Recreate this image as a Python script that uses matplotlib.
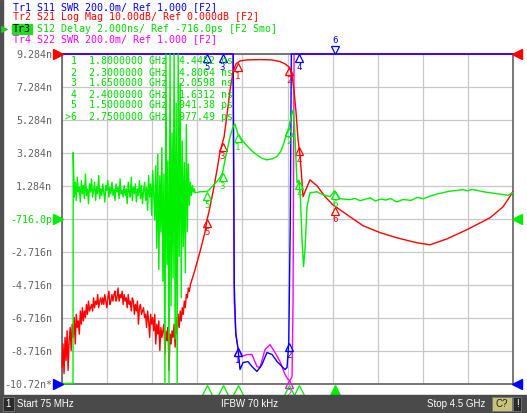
import numpy as np
import matplotlib.pyplot as plt
from matplotlib import transforms
from matplotlib.patches import Rectangle

W, H = 527, 413

# sweep (GHz)
F_START, F_STOP = 0.075, 4.5

# Tr3 S12 delay scale, ns  (ref -716.0 ps, 2 ns/div)
DLY_BOT, DLY_TOP = -10.716, 9.284
# Tr2 S21 log mag, dB  (ref 0 dB at top, 10 dB/div)
DB_BOT, DB_TOP = -100.0, 0.0
# Tr1/Tr4 SWR  (ref 1.000 at bottom, 200m/div)
SWR_BOT, SWR_TOP = 1.0, 3.0

ytick_labels = ['-10.72n*', '-8.716n', '-6.716n', '-4.716n', '-2.716n', '-716.0p',
                '1.284n', '3.284n', '5.284n', '7.284n', '9.284n']

# ---- Tr3 S12 delay (ns)
grn_low_f = [0.075, 0.183]
grn_low_v = [-10.716, -10.716]
grn_noise_f = np.linspace(0.185, 1.375, 120)
grn_noise_v = [3.3, 0.6, 1.5, 0.4, 1.8, 0.9, 1.2, 0.3, 1.6, 0.8,
               1.3, 0.5, 2.0, 0.7, 1.1, 0.2, 1.4, 0.9, 1.7, 0.6,
               1.0, 1.5, 0.4, 1.2, 0.8, 1.9, 0.5, 1.1, 0.7, 1.4,
               0.9, 0.3, 1.3, 1.0, 1.6, 0.6, 1.2, 0.8, 1.5, 0.7,
               1.1, 0.4, 1.4, 0.9, 1.2, 0.5, 1.7, 0.8, 1.0, 0.6,
               1.3, 0.7, 1.1, 0.2, 1.5, 0.9, 0.6, 1.8, 0.4, 1.2,
               0.8, 1.4, 0.3, 1.1, 0.7, 1.6, 0.5, 1.3, 0.2, 1.0,
               1.5, 0.4, 1.2, -0.2, 1.9, 0.6, 1.4, -0.5, 2.2, 0.8,
               -0.8, 2.5, -2.5, 3.2, -3.8, 1.9, -1.5, 3.6, -4.5, 2.0,
               -11, 10, -3.5, 2.8, -11, 10, -6, 4.5, -4.3, 10,
               -8, 6.3, -11, 10, -3, 7.5, -5.5, 4.0, -2.4, 2.7,
               -4.0, 5.0, -1.5, 2.6, 0.1, 1.5, 0.7, 1.3, 0.9, 1.1]
grn_f = [1.380, 1.429, 1.5, 1.557, 1.625, 1.65, 1.684, 1.724, 1.753, 1.772, 1.8,
         1.841, 1.890, 1.939, 1.988, 2.037, 2.086, 2.136, 2.185, 2.224, 2.253,
         2.273, 2.3, 2.322, 2.342, 2.356, 2.371, 2.381, 2.4, 2.415, 2.430,
         2.445, 2.459, 2.479, 2.508, 2.577, 2.636, 2.704, 2.75, 2.803, 2.901,
         2.95, 3.0, 3.05, 3.1, 3.15, 3.2, 3.25, 3.3, 3.36, 3.42, 3.5, 3.56,
         3.62, 3.69, 3.75, 3.81, 3.87, 3.95, 4.01, 4.05, 4.10, 4.15, 4.21,
         4.28, 4.34, 4.40, 4.45, 4.5]
grn_v = [0.86, 0.92, 0.94, 1.28, 1.77, 2.06, 3.16, 4.25, 4.86, 5.04, 4.445,
         4.07, 3.71, 3.40, 3.16, 2.95, 2.86, 2.92, 3.06, 3.40, 3.89,
         4.37, 4.81, 5.47, 5.89, 4.98, 2.86, 1.47, 1.63, 0.44, -1.99,
         -3.62, -2.59, 0.01, 0.86, 0.92, 0.74, 0.62, 0.977, 0.50, 0.44,
         0.52, 0.38, 0.47, 0.55, 0.36, 0.48, 0.42, 0.51, 0.30, 0.45, 0.40, 0.58,
         0.50, 0.66, 0.78, 0.86, 0.95, 1.00, 1.05, 0.98, 1.06, 1.00, 0.92,
         0.86, 0.80, 0.76, 0.70, 0.88]

# ---- Tr2 S21 log mag (dB)
red_noise_f = np.linspace(0.075, 1.375, 131)
red_noise_v = [-95, -88, -97, -86, -93, -84, -96, -87, -83, -90,
               -82, -86, -80, -88, -79, -83, -81, -85, -78, -82,
               -77, -81, -78, -80, -76, -79, -75, -78, -77, -76,
               -78, -74, -77, -75, -76, -73, -77, -75, -74, -76,
               -74, -76, -73, -75, -77, -74, -72, -76, -75, -73,
               -75, -73, -72, -75, -74, -71, -75, -73, -74, -72,
               -76, -73, -75, -74, -77, -73, -76, -75, -78, -74,
               -75, -79, -76, -78, -75, -82, -77, -76, -79, -78,
               -77, -80, -79, -83, -78, -81, -86, -79, -82, -80,
               -84, -79, -88, -82, -85, -81, -90, -83, -86, -84,
               -82, -91, -84, -87, -83, -96, -85, -88, -84, -86,
               -82, -89, -80, -85, -79, -83, -78, -81, -77, -79,
               -75, -77, -73, -74, -71, -72, -70, -69, -68, -67, -66]
red_f = [1.429, 1.478, 1.498, 1.517, 1.557, 1.596, 1.625, 1.665, 1.694, 1.724,
         1.753, 1.782, 1.822, 1.890, 2.018, 2.136, 2.214, 2.263, 2.302, 2.332,
         2.351, 2.371, 2.391, 2.410, 2.425, 2.440, 2.459, 2.508, 2.577, 2.656,
         2.734, 2.803, 2.901, 3.028, 3.195, 3.362, 3.558, 3.686, 3.853, 4.049,
         4.275, 4.402, 4.5]
red_v = [-60.0, -54.0, -50.3, -47.9, -41.8, -35.2, -29.7, -25.2, -18.5, -10.9,
         -5.5, -3.0, -2.1, -1.8, -1.7, -1.8, -2.3, -3.0, -3.9, -6.4,
         -10.9, -17.6, -26.0, -30.6, -36.7, -43.3, -41.8, -38.2, -40.0, -43.3,
         -45.8, -47.3, -49.4, -52.1, -54.2, -55.8, -57.3, -57.9, -56.1, -53.3,
         -49.7, -46.4, -41.8]

# ---- Tr1 S11 SWR (pegged at top outside the passband)
s11_f = [0.075, 1.755, 1.765, 1.78, 1.80, 1.822, 1.851, 1.900, 1.939, 1.988,
         2.037, 2.086, 2.136, 2.185, 2.234, 2.263, 2.283, 2.30, 2.315, 2.325, 4.5]
s11_v = [3.0, 3.0, 1.6, 1.30, 1.22, 1.085, 1.127, 1.133, 1.103, 1.073,
         1.115, 1.188, 1.176, 1.133, 1.103, 1.085, 1.097, 1.25, 2.0, 3.0, 3.0]

# ---- Tr4 S22 SWR
s22_f = [0.075, 1.752, 1.765, 1.78, 1.80, 1.841, 1.890, 1.939, 1.988, 2.018,
         2.067, 2.116, 2.165, 2.214, 2.263, 2.293, 2.312, 2.332, 2.342, 2.352, 4.5]
s22_v = [3.0, 3.0, 1.5, 1.31, 1.22, 1.164, 1.176, 1.176, 1.103, 1.097,
         1.206, 1.236, 1.188, 1.133, 1.055, 1.024, 1.018, 1.042, 1.5, 3.0, 3.0]

# ---- markers
mk_freq = [1.8, 2.3, 1.65, 2.4, 1.5, 2.75]
mk_name = ['1', '2', '3', '4', '5', '>6']
mk_val = ['4.4452', '4.8064', '2.0598', '1.6312', '941.38', '977.49']
mk_unit = ['ns', 'ns', 'ns', 'ns', 'ps', 'ps']

BLUE, RED, GRN, MAG = '#0000ff', '#ff0000', '#00ee00', '#ff00ff'
GRN_TXT = '#00dd00'
MONO = 'DejaVu Sans Mono'
FS = 7.2

fig = plt.figure(figsize=(W / 100, H / 100), dpi=100)
fig.patch.set_facecolor('white')

def fx(px):
    return px / W

def fy(py):
    return 1 - py / H

# frame / status bar
fig.patches.append(Rectangle((0, 0), fx(3), 1, transform=fig.transFigure,
                             color='#505050', zorder=0))
fig.patches.append(Rectangle((0, 0), 1, 18 / H, transform=fig.transFigure,
                             color='#4a4a4a', zorder=0))
fig.patches.append(Rectangle((fx(3), fy(411)), fx(11), 14 / H, transform=fig.transFigure,
                             facecolor='#2a2a2a', edgecolor='#777777', lw=0.6))
fig.patches.append(Rectangle((fx(492), fy(411)), fx(20), 14 / H, transform=fig.transFigure,
                             facecolor='#c8c27a', edgecolor='#777777', lw=0.6))
fig.patches.append(Rectangle((fx(513), fy(411)), fx(8), 14 / H, transform=fig.transFigure,
                             facecolor='#2a2a2a', edgecolor='#777777', lw=0.6))
sb = dict(color='white', fontsize=7, family='Liberation Sans', va='center')
fig.text(fx(8.5), fy(404), '1', ha='center', **sb)
fig.text(fx(17), fy(404), 'Start 75 MHz', ha='left', **sb)
fig.text(fx(250), fy(404), 'IFBW 70 kHz', ha='center', **sb)
fig.text(fx(485), fy(404), 'Stop 4.5 GHz', ha='right', **sb)
fig.text(fx(502), fy(404), 'C?', ha='center', color='#202020', fontsize=7,
         family='Liberation Sans', va='center')
fig.text(fx(517), fy(404), '!', ha='center', **sb)

# header
hdr = [('Tr1 S11 SWR 200.0m/ Ref 1.000 [F2]', BLUE, 7.5),
       ('Tr2 S21 Log Mag 10.00dB/ Ref 0.000dB [F2]', RED, 17.5),
       ('Tr3 S12 Delay 2.000ns/ Ref -716.0ps [F2 Smo]', GRN_TXT, 28.5),
       ('Tr4 S22 SWR 200.0m/ Ref 1.000 [F2]', MAG, 39)]
for txt, c, y in hdr:
    if txt.startswith('Tr3'):
        fig.patches.append(Rectangle((fx(12), fy(34)), fx(19.5), 10 / H,
                                     transform=fig.transFigure, color='#22dd22'))
        fig.text(fx(12.7), fy(y), 'Tr3', color='black', fontsize=FS, family=MONO, va='center')
        fig.text(fx(12.7), fy(y), '    ' + txt[4:], color=c, fontsize=FS, family=MONO, va='center')
        fig.text(fx(1), fy(y), '\u25B6', color='#22cc22', fontsize=7, va='center')
    else:
        fig.text(fx(12.7), fy(y), txt, color=c, fontsize=FS, family=MONO, va='center')

# base axes: grid + labels (delay scale)
ax = fig.add_axes([fx(62), fy(383.5), fx(451), 329.5 / H])
ax.set_xlim(F_START, F_STOP)
ax.set_ylim(DLY_BOT, DLY_TOP)
ax.set_xticks(np.linspace(F_START, F_STOP, 11))
ax.set_xticklabels([])
ax.set_yticks(np.linspace(DLY_BOT, DLY_TOP, 11), ytick_labels)
ax.tick_params(length=0, pad=7.2, labelsize=FS, labelcolor='#606060')
for lab in ax.get_yticklabels():
    lab.set_family(MONO)
    if lab.get_text() == '-716.0p':
        lab.set_color(GRN_TXT)
ax.grid(True, color='#c8c8c8', lw=0.9)
for s in ax.spines.values():
    s.set_color('#606060')
    s.set_linewidth(1.2)


def twin(lo, hi):
    a = ax.twinx()
    a.set_ylim(lo, hi)
    a.set_xlim(F_START, F_STOP)
    a.axis('off')
    return a


ax_swr = twin(SWR_BOT, SWR_TOP)
ax_red = twin(DB_BOT, DB_TOP)
ax_grn = twin(DLY_BOT, DLY_TOP)


def draw_markers(a, f, v, color, idx, lo, hi):
    tri = transforms.offset_copy(a.transData, fig=fig, y=-3.2, units='points')
    num = transforms.offset_copy(a.transData, fig=fig, y=-6.6, units='points')
    for i in idx:
        fm = mk_freq[i]
        vm = float(np.clip(np.interp(fm, f, v), lo, hi))
        a.plot([fm], [vm], marker='^', ms=6.4, mfc='none', mec=color, mew=0.9,
               transform=tri, clip_on=False, zorder=6)
        a.text(fm, vm, str(i + 1), transform=num, ha='center', va='top',
               color=color, fontsize=6.5, family=MONO, zorder=6, clip_on=False)


# SWR traces
ax_swr.plot(s22_f, s22_v, color=MAG, lw=1.0, clip_on=False)
ax_swr.plot(s11_f, s11_v, color=BLUE, lw=1.0, clip_on=False)
draw_markers(ax_swr, s22_f, s22_v, MAG, [0, 1], SWR_BOT, SWR_TOP)
draw_markers(ax_swr, s11_f, s11_v, BLUE, [0, 1, 2, 3, 4], SWR_BOT, SWR_TOP)
up = transforms.offset_copy(ax_swr.transData, fig=fig, y=3.2, units='points')
up2 = transforms.offset_copy(ax_swr.transData, fig=fig, y=6.6, units='points')
ax_swr.plot([mk_freq[5]], [SWR_TOP], marker='v', ms=6.4, mfc='none', mec=BLUE,
            mew=0.9, transform=up, clip_on=False)
ax_swr.text(mk_freq[5], SWR_TOP, '6', transform=up2, ha='center', va='bottom',
            color=BLUE, fontsize=6.5, family=MONO, clip_on=False)

# S21 trace
rf = np.concatenate([red_noise_f, red_f])
rv = np.clip(np.concatenate([red_noise_v, red_v]), DB_BOT, DB_TOP)
ax_red.plot(rf, rv, color=RED, lw=1.0, clip_on=False)
draw_markers(ax_red, rf, rv, RED, range(6), DB_BOT, DB_TOP)

# S12 delay trace
gf = np.concatenate([grn_low_f, grn_noise_f, grn_f])
gv = np.clip(np.concatenate([grn_low_v, grn_noise_v, grn_v]), DLY_BOT, DLY_TOP)
ax_grn.plot(gf, gv, color=GRN, lw=1.0, clip_on=False)
draw_markers(ax_grn, gf, gv, GRN, range(6), DLY_BOT, DLY_TOP)

# marker position triangles under the grid (active trace)
below = transforms.blended_transform_factory(ax_grn.transData, ax_grn.transAxes)
for i, fm in enumerate(mk_freq):
    ax_grn.plot([fm], [-0.02], marker='^', ms=7, transform=below, clip_on=False,
                mec=GRN, mfc=GRN if i == 5 else 'none', mew=0.9)

# reference level arrows
edge = ax_grn.transAxes
for yy, c in [(1.0, RED), (0.5, GRN), (0.0, BLUE)]:
    ax_grn.plot([-0.009], [yy], marker='>', ms=6.5, color=c, transform=edge, clip_on=False)
    ax_grn.plot([1.009], [yy], marker='<', ms=6.5, color=c, transform=edge, clip_on=False)

# marker table
for i in range(6):
    line = f'{mk_name[i]:>2}  {mk_freq[i]:.7f} GHz  {mk_val[i]} {mk_unit[i]}'
    fig.text(fx(65), fy(61.5 + 11 * i), line, color=GRN_TXT, fontsize=FS,
             family=MONO, va='center')

plt.savefig('out.png', dpi=100)
